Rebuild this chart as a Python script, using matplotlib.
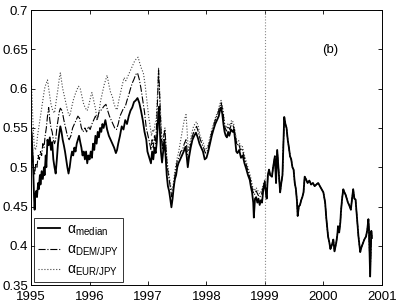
import matplotlib
matplotlib.use('Agg')
from matplotlib import pyplot as plt

plt.rcParams['font.family'] = ['Liberation Sans', 'DejaVu Sans']
plt.rcParams['mathtext.fontset'] = 'custom'
plt.rcParams['mathtext.rm'] = 'Liberation Sans'
plt.rcParams['mathtext.it'] = 'Liberation Sans'

# median alpha, up to end of 1998
med_t = [1995.00, 1995.01, 1995.02, 1995.035, 1995.05, 1995.06, 1995.07, 1995.09, 1995.10, 1995.12,
         1995.13, 1995.15, 1995.16, 1995.18, 1995.20, 1995.22, 1995.23, 1995.25, 1995.26, 1995.28,
         1995.30, 1995.32, 1995.34, 1995.36, 1995.38, 1995.40, 1995.42, 1995.44, 1995.46, 1995.48,
         1995.50, 1995.52, 1995.54, 1995.56, 1995.58, 1995.60, 1995.62, 1995.64, 1995.66, 1995.68,
         1995.70, 1995.72, 1995.74, 1995.76, 1995.78, 1995.80, 1995.82, 1995.84, 1995.86, 1995.88,
         1995.90, 1995.92, 1995.94, 1995.96, 1995.98, 1996.00, 1996.02, 1996.04, 1996.06, 1996.08,
         1996.10, 1996.12, 1996.14, 1996.16, 1996.18, 1996.20, 1996.22, 1996.24, 1996.27, 1996.30,
         1996.33, 1996.36, 1996.39, 1996.42, 1996.45, 1996.47, 1996.49, 1996.52, 1996.55, 1996.58,
         1996.61, 1996.64, 1996.67, 1996.70, 1996.73, 1996.76, 1996.79, 1996.82, 1996.85, 1996.88,
         1996.91, 1996.94, 1996.97, 1996.99, 1997.01, 1997.03, 1997.05, 1997.07, 1997.09, 1997.11,
         1997.13, 1997.15, 1997.17, 1997.19, 1997.20, 1997.22, 1997.24, 1997.26, 1997.28, 1997.30,
         1997.32, 1997.34, 1997.36, 1997.38, 1997.40, 1997.42, 1997.44, 1997.46, 1997.48, 1997.50,
         1997.52, 1997.55, 1997.58, 1997.61, 1997.64, 1997.66, 1997.68, 1997.70, 1997.73, 1997.76,
         1997.79, 1997.82, 1997.85, 1997.88, 1997.91, 1997.94, 1997.97, 1998.00, 1998.03, 1998.06,
         1998.09, 1998.12, 1998.15, 1998.18, 1998.21, 1998.23, 1998.25, 1998.27, 1998.29, 1998.31,
         1998.33, 1998.35, 1998.37, 1998.39, 1998.42, 1998.45, 1998.47, 1998.49, 1998.51, 1998.53,
         1998.56, 1998.59, 1998.62, 1998.65, 1998.68, 1998.71, 1998.74, 1998.76, 1998.78, 1998.80,
         1998.81, 1998.83, 1998.85, 1998.87, 1998.89, 1998.91, 1998.93, 1998.95, 1998.97, 1998.99]
med_a = [0.548, 0.540, 0.525, 0.500, 0.462, 0.446, 0.465, 0.470, 0.462, 0.480,
         0.472, 0.490, 0.478, 0.495, 0.485, 0.500, 0.490, 0.515, 0.500, 0.535,
         0.528, 0.538, 0.522, 0.532, 0.510, 0.500, 0.492, 0.510, 0.530, 0.542,
         0.552, 0.545, 0.535, 0.528, 0.520, 0.510, 0.500, 0.492, 0.500, 0.512,
         0.520, 0.515, 0.525, 0.520, 0.530, 0.535, 0.540, 0.532, 0.525, 0.515,
         0.520, 0.510, 0.520, 0.505, 0.515, 0.510, 0.520, 0.512, 0.530, 0.522,
         0.540, 0.530, 0.545, 0.538, 0.550, 0.545, 0.555, 0.550, 0.560, 0.548,
         0.540, 0.535, 0.530, 0.525, 0.518, 0.522, 0.530, 0.540, 0.552, 0.548,
         0.560, 0.555, 0.565, 0.572, 0.576, 0.583, 0.585, 0.588, 0.582, 0.572,
         0.560, 0.545, 0.535, 0.520, 0.515, 0.510, 0.505, 0.520, 0.510, 0.525,
         0.518, 0.532, 0.560, 0.577, 0.550, 0.520, 0.506, 0.520, 0.535, 0.515,
         0.490, 0.476, 0.470, 0.460, 0.449, 0.460, 0.475, 0.485, 0.490, 0.500,
         0.505, 0.510, 0.515, 0.520, 0.526, 0.515, 0.500, 0.512, 0.525, 0.535,
         0.540, 0.544, 0.538, 0.530, 0.525, 0.520, 0.510, 0.512, 0.520, 0.530,
         0.540, 0.548, 0.555, 0.560, 0.565, 0.572, 0.576, 0.568, 0.555, 0.545,
         0.540, 0.538, 0.545, 0.540, 0.548, 0.545, 0.548, 0.535, 0.520, 0.518,
         0.522, 0.512, 0.515, 0.505, 0.498, 0.490, 0.484, 0.475, 0.468, 0.455,
         0.436, 0.460, 0.462, 0.455, 0.460, 0.452, 0.458, 0.455, 0.470, 0.480]

# from 1999 on the three estimates coincide
late_t = [1999.01, 1999.03, 1999.05, 1999.07, 1999.09, 1999.12, 1999.14, 1999.17, 1999.19, 1999.21,
          1999.23, 1999.26, 1999.28, 1999.30, 1999.32, 1999.33, 1999.35, 1999.37, 1999.39, 1999.41,
          1999.43, 1999.45, 1999.47, 1999.49, 1999.51, 1999.53, 1999.55, 1999.56, 1999.58, 1999.60,
          1999.62, 1999.64, 1999.66, 1999.68, 1999.70, 1999.73, 1999.76, 1999.79, 1999.82, 1999.85,
          1999.88, 1999.91, 1999.94, 1999.97, 2000.00, 2000.03, 2000.05, 2000.08, 2000.10, 2000.12,
          2000.14, 2000.16, 2000.17, 2000.19, 2000.21, 2000.22, 2000.24, 2000.25, 2000.27, 2000.29,
          2000.30, 2000.32, 2000.34, 2000.36, 2000.38, 2000.40, 2000.42, 2000.44, 2000.46, 2000.47,
          2000.49, 2000.51, 2000.53, 2000.55, 2000.57, 2000.60, 2000.63, 2000.65, 2000.68, 2000.70,
          2000.73, 2000.75, 2000.77, 2000.78, 2000.80, 2000.81, 2000.82, 2000.83]
late_a = [0.472, 0.460, 0.490, 0.497, 0.490, 0.488, 0.500, 0.514, 0.480, 0.522,
          0.500, 0.468, 0.480, 0.490, 0.540, 0.564, 0.555, 0.550, 0.535, 0.525,
          0.514, 0.510, 0.500, 0.497, 0.480, 0.472, 0.455, 0.438, 0.450, 0.452,
          0.458, 0.462, 0.468, 0.488, 0.485, 0.480, 0.483, 0.478, 0.480, 0.476,
          0.478, 0.480, 0.476, 0.472, 0.468, 0.455, 0.435, 0.412, 0.405, 0.396,
          0.400, 0.405, 0.408, 0.393, 0.400, 0.404, 0.415, 0.425, 0.417, 0.430,
          0.443, 0.460, 0.472, 0.468, 0.465, 0.460, 0.455, 0.452, 0.448, 0.446,
          0.460, 0.472, 0.460, 0.459, 0.440, 0.412, 0.392, 0.398, 0.404, 0.408,
          0.412, 0.420, 0.434, 0.420, 0.361, 0.390, 0.419, 0.410]

# DEM/JPY alpha, up to end of 1998
dem_t = [1995.00, 1995.02, 1995.04, 1995.06, 1995.08, 1995.10, 1995.12, 1995.14, 1995.16, 1995.18,
         1995.20, 1995.22, 1995.24, 1995.26, 1995.28, 1995.30, 1995.32, 1995.34, 1995.36, 1995.38,
         1995.40, 1995.42, 1995.44, 1995.46, 1995.48, 1995.50, 1995.53, 1995.56, 1995.59, 1995.62,
         1995.65, 1995.68, 1995.71, 1995.74, 1995.77, 1995.80, 1995.83, 1995.86, 1995.89, 1995.92,
         1995.95, 1995.98, 1996.01, 1996.04, 1996.07, 1996.10, 1996.13, 1996.16, 1996.19, 1996.22,
         1996.25, 1996.28, 1996.31, 1996.34, 1996.37, 1996.40, 1996.43, 1996.46, 1996.49, 1996.52,
         1996.55, 1996.58, 1996.61, 1996.64, 1996.67, 1996.70, 1996.73, 1996.76, 1996.79, 1996.82,
         1996.85, 1996.88, 1996.91, 1996.94, 1996.97, 1997.00, 1997.03, 1997.05, 1997.07, 1997.09,
         1997.11, 1997.13, 1997.15, 1997.17, 1997.18, 1997.19, 1997.21, 1997.23, 1997.25, 1997.27,
         1997.29, 1997.31, 1997.33, 1997.35, 1997.37, 1997.39, 1997.41, 1997.43, 1997.45, 1997.47,
         1997.50, 1997.53, 1997.56, 1997.59, 1997.62, 1997.65, 1997.67, 1997.69, 1997.71, 1997.74,
         1997.77, 1997.80, 1997.83, 1997.86, 1997.89, 1997.92, 1997.95, 1997.98, 1998.01, 1998.04,
         1998.07, 1998.10, 1998.13, 1998.16, 1998.19, 1998.22, 1998.25, 1998.28, 1998.31, 1998.34,
         1998.37, 1998.40, 1998.43, 1998.46, 1998.49, 1998.52, 1998.55, 1998.58, 1998.61, 1998.64,
         1998.67, 1998.70, 1998.73, 1998.76, 1998.79, 1998.82, 1998.85, 1998.88, 1998.91, 1998.94,
         1998.97, 1999.00]
dem_a = [0.560, 0.530, 0.500, 0.490, 0.505, 0.500, 0.515, 0.510, 0.520, 0.515,
         0.530, 0.525, 0.540, 0.550, 0.565, 0.576, 0.560, 0.550, 0.545, 0.535,
         0.530, 0.535, 0.550, 0.560, 0.570, 0.575, 0.572, 0.560, 0.550, 0.540,
         0.535, 0.540, 0.550, 0.555, 0.560, 0.565, 0.562, 0.550, 0.545, 0.550,
         0.545, 0.552, 0.548, 0.555, 0.560, 0.565, 0.560, 0.570, 0.572, 0.575,
         0.578, 0.580, 0.572, 0.565, 0.560, 0.555, 0.550, 0.548, 0.555, 0.565,
         0.570, 0.575, 0.577, 0.585, 0.592, 0.600, 0.607, 0.612, 0.618, 0.620,
         0.612, 0.600, 0.585, 0.570, 0.550, 0.540, 0.530, 0.522, 0.535, 0.525,
         0.540, 0.530, 0.560, 0.600, 0.624, 0.610, 0.570, 0.535, 0.522, 0.540,
         0.548, 0.520, 0.500, 0.490, 0.480, 0.470, 0.462, 0.470, 0.482, 0.495,
         0.508, 0.512, 0.520, 0.522, 0.530, 0.535, 0.520, 0.510, 0.520, 0.535,
         0.542, 0.548, 0.552, 0.545, 0.536, 0.530, 0.525, 0.518, 0.520, 0.528,
         0.538, 0.547, 0.555, 0.562, 0.567, 0.575, 0.582, 0.572, 0.552, 0.546,
         0.552, 0.548, 0.556, 0.552, 0.542, 0.528, 0.530, 0.522, 0.524, 0.514,
         0.506, 0.498, 0.490, 0.482, 0.470, 0.465, 0.470, 0.465, 0.462, 0.465,
         0.475, 0.482]

# EUR/JPY alpha, up to end of 1998
eur_t = [1995.00, 1995.01, 1995.03, 1995.05, 1995.07, 1995.09, 1995.11, 1995.13, 1995.15, 1995.17,
         1995.19, 1995.21, 1995.23, 1995.25, 1995.28, 1995.30, 1995.32, 1995.34, 1995.37, 1995.40,
         1995.42, 1995.44, 1995.46, 1995.48, 1995.50, 1995.52, 1995.54, 1995.57, 1995.60, 1995.63,
         1995.66, 1995.69, 1995.72, 1995.75, 1995.78, 1995.81, 1995.84, 1995.87, 1995.90, 1995.93,
         1995.96, 1995.99, 1996.02, 1996.04, 1996.07, 1996.10, 1996.13, 1996.16, 1996.19, 1996.22,
         1996.25, 1996.28, 1996.30, 1996.33, 1996.36, 1996.39, 1996.42, 1996.45, 1996.47, 1996.50,
         1996.53, 1996.56, 1996.59, 1996.62, 1996.65, 1996.68, 1996.71, 1996.74, 1996.77, 1996.80,
         1996.83, 1996.86, 1996.89, 1996.92, 1996.95, 1996.98, 1997.01, 1997.04, 1997.06, 1997.08,
         1997.10, 1997.12, 1997.14, 1997.16, 1997.18, 1997.19, 1997.21, 1997.23, 1997.25, 1997.27,
         1997.29, 1997.31, 1997.33, 1997.35, 1997.37, 1997.39, 1997.41, 1997.43, 1997.45, 1997.47,
         1997.50, 1997.53, 1997.56, 1997.59, 1997.62, 1997.65, 1997.67, 1997.69, 1997.71, 1997.74,
         1997.77, 1997.80, 1997.83, 1997.86, 1997.89, 1997.92, 1997.95, 1997.98, 1998.01, 1998.04,
         1998.07, 1998.10, 1998.13, 1998.16, 1998.19, 1998.22, 1998.25, 1998.28, 1998.31, 1998.34,
         1998.37, 1998.40, 1998.43, 1998.46, 1998.49, 1998.52, 1998.55, 1998.58, 1998.61, 1998.64,
         1998.67, 1998.70, 1998.73, 1998.76, 1998.79, 1998.82, 1998.85, 1998.88, 1998.91, 1998.94,
         1998.97, 1999.00]
eur_a = [0.611, 0.600, 0.560, 0.530, 0.522, 0.525, 0.540, 0.550, 0.560, 0.570,
         0.580, 0.590, 0.600, 0.605, 0.611, 0.600, 0.590, 0.580, 0.572, 0.569,
         0.580, 0.590, 0.600, 0.612, 0.620, 0.610, 0.600, 0.590, 0.580, 0.570,
         0.565, 0.575, 0.585, 0.592, 0.598, 0.603, 0.600, 0.590, 0.580, 0.575,
         0.572, 0.580, 0.590, 0.595, 0.585, 0.575, 0.560, 0.570, 0.585, 0.595,
         0.605, 0.612, 0.617, 0.605, 0.595, 0.590, 0.580, 0.575, 0.573, 0.585,
         0.595, 0.605, 0.614, 0.610, 0.615, 0.620, 0.625, 0.630, 0.635, 0.638,
         0.640, 0.632, 0.625, 0.620, 0.605, 0.585, 0.565, 0.550, 0.540, 0.548,
         0.545, 0.555, 0.560, 0.590, 0.626, 0.610, 0.575, 0.545, 0.530, 0.545,
         0.550, 0.525, 0.505, 0.495, 0.485, 0.475, 0.470, 0.478, 0.490, 0.500,
         0.512, 0.522, 0.535, 0.548, 0.560, 0.567, 0.545, 0.520, 0.528, 0.540,
         0.550, 0.555, 0.558, 0.552, 0.540, 0.535, 0.530, 0.522, 0.525, 0.532,
         0.542, 0.550, 0.558, 0.565, 0.570, 0.578, 0.585, 0.575, 0.556, 0.550,
         0.556, 0.553, 0.560, 0.557, 0.546, 0.532, 0.534, 0.527, 0.528, 0.518,
         0.510, 0.502, 0.495, 0.486, 0.475, 0.470, 0.474, 0.470, 0.466, 0.470,
         0.478, 0.485]

xticks = [1995, 1996, 1997, 1998, 1999, 2000, 2001]
yticks = [0.35, 0.4, 0.45, 0.5, 0.55, 0.6, 0.65, 0.7]
ylabels = ['0.35', '0.4', '0.45', '0.5', '0.55', '0.6', '0.65', '0.7']

fig = plt.figure(figsize=(3.99, 3.04), dpi=100)
ax = fig.add_axes([0.078, 0.062, 0.879, 0.905])

ax.axvline(1999, color='#888888', ls=':', lw=0.8)

ax.plot(eur_t + late_t, eur_a + late_a, color='#444444', ls=':', lw=0.8, label=r'$\mathrm{\alpha}_{\mathrm{EUR/JPY}}$')
ax.plot(dem_t + late_t, dem_a + late_a, color='k', ls='-.', lw=0.8, label=r'$\mathrm{\alpha}_{\mathrm{DEM/JPY}}$')
ax.plot(med_t + late_t, med_a + late_a, color='k', ls='-', lw=1.3, label=r'$\mathrm{\alpha}_{\mathrm{median}}$')

ax.text(2000.12, 0.649, '(b)', ha='center', va='center', fontsize=9.5)

ax.set_xlim(1995, 2001)
ax.set_ylim(0.35, 0.7)
ax.set_xticks(xticks)
ax.set_xticklabels([str(x) for x in xticks], fontsize=9.5)
ax.set_yticks(yticks)
ax.set_yticklabels(ylabels, fontsize=9.5)
ax.tick_params(direction='in', top=True, right=True, length=3, width=0.6, pad=2)
ax.tick_params(axis='x', pad=4)
for s in ax.spines.values():
    s.set_linewidth(0.7)

h, l = ax.get_legend_handles_labels()
leg = ax.legend(h[::-1], l[::-1], loc='lower left', fontsize=10, fancybox=False,
                edgecolor='k', handlelength=1.6, borderaxespad=0.2, labelspacing=0.35,
                handletextpad=0.5, borderpad=0.3)
leg.get_frame().set_linewidth(0.7)

fig.savefig('out.png', dpi=100)
